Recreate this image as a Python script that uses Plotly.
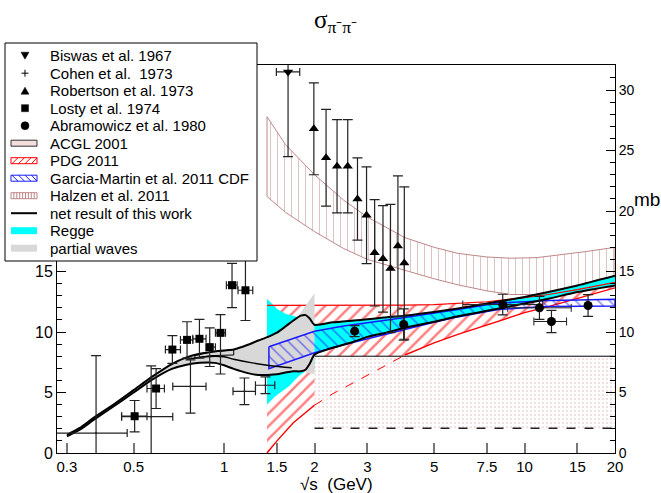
import plotly.graph_objects as go
import numpy as np

# ---------------- data ----------------
biswas_x = [1.633]
biswas_y = [31.5]
biswas_ey = [7.0]
biswas_exm = [0.14]
biswas_exp = [0.153]

cohen_x = [0.375, 0.572, 0.773, 1.169, 1.373]
cohen_y = [1.65, 3.0, 5.5, 5.1, 5.6]
cohen_ey = [6.4, 4.2, 2.2, 1.1, 0.7]
cohen_exm = [0.105, 0.116, 0.098, 0.098, 0.101]
cohen_exp = [0.101, 0.103, 0.098, 0.103, 0.102]

robertson_x = [1.99, 2.185, 2.377, 2.58, 2.78, 2.98, 3.17, 3.38, 3.58, 3.79, 3.98]
robertson_y = [26.8, 24.4, 23.7, 23.7, 21.0, 19.65, 16.55, 16.05, 15.25, 17.1, 15.7]
robertson_ey = [3.8, 4.0, 3.85, 3.85, 3.4, 4.0, 4.4, 4.4, 5.3, 5.8, 6.3]

losty_x = [0.504, 0.594, 0.673, 0.753, 0.828, 0.896, 0.973, 1.063, 1.178]
losty_y = [3.04, 5.33, 8.55, 9.35, 9.44, 8.75, 9.93, 13.87, 13.45]
losty_eyp = [1.3, 1.65, 1.15, 1.5, 1.6, 1.6, 1.5, 1.8, 2.5]
losty_eym = [1.3, 1.65, 1.15, 1.5, 1.6, 1.6, 3.4, 1.85, 2.5]
losty_exm = [0.048, 0.04, 0.035, 0.037, 0.041, 0.025, 0.037, 0.045, 0.065]
losty_exp = [0.05, 0.039, 0.043, 0.034, 0.043, 0.04, 0.038, 0.042, 0.068]

abr_x = [2.72, 3.96, 8.46, 11.21, 12.29, 16.27]
abr_y = [10.07, 10.62, 12.27, 12.0, 10.87, 12.19]
abr_ey = [0.45, 1.3, 0.85, 0.95, 0.92, 0.9]
abr_exm = [0, 0, 2.23, 2.42, 1.55, 0]
abr_exp = [0, 0, 3.03, 3.09, 1.51, 0]

# ACGL 2001 box
acgl_x = [2.0, 20.0]
acgl_hi = [8.0, 8.0]
acgl_lo = [2.05, 2.05]

# PDG 2011 band
pdg_up_x = [1.39, 2, 3, 4, 5, 6, 7.5, 10, 12, 15, 20]
pdg_up_y = [12.2, 12.2, 12.2, 12.22, 12.27, 12.35, 12.5, 12.85, 13.1, 13.5, 14.1]
pdg_lo_x = [1.39, 1.5, 1.7, 2, 2.3, 2.6, 3, 3.4, 4, 5, 6, 7.5, 10, 12, 15, 20]
pdg_lo_y = [0.0, 1.0, 2.5, 3.95, 4.9, 5.6, 6.4, 7.15, 8.1, 9.1, 9.8, 10.6, 11.6, 12.1, 12.8, 13.65]

# Garcia-Martin et al. 2011 CDF band
gm_x = [1.41, 2, 2.5, 3, 3.4, 4, 5, 6, 7.5, 8.2, 10, 12, 15, 20]
gm_up = [8.78, 10.07, 10.5, 10.8, 10.95, 11.2, 11.55, 11.85, 12.25, 12.4, 12.5, 12.6, 12.65, 12.7]
gm_lo = [6.96, 8.28, 8.95, 9.45, 9.8, 10.2, 10.8, 11.25, 11.7, 11.86, 12.0, 12.1, 12.15, 12.15]

# Halzen et al. 2011 band
hz_x = [1.39, 1.6, 2, 2.5, 3, 4, 5, 6, 7.5, 9, 11, 13, 16, 20]
hz_up = [27.8, 25.5, 23.0, 20.9, 19.5, 17.8, 17.0, 16.5, 16.2, 16.1, 16.15, 16.35, 16.65, 17.0]
hz_lo = [21.2, 19.9, 18.3, 16.9, 16.0, 15.1, 14.4, 13.9, 13.4, 13.1, 13.1, 13.3, 13.8, 14.6]

# net result of this work
net_x = [0.3, 0.33, 0.37, 0.42, 0.5, 0.58, 0.67, 0.75, 0.83, 0.93, 1.0, 1.077, 1.2, 1.3,
         1.4, 1.5, 1.6, 1.7, 1.8, 1.87, 1.93, 2.0, 2.3, 2.7, 3.0, 3.4, 4.0, 5.0, 6.0,
         7.5, 10, 12, 15, 20]
net_up = [1.5, 2.05, 2.95, 3.85, 5.2, 6.35, 7.35, 7.9, 8.2, 8.4, 8.48, 8.55, 8.95, 9.3,
          9.6, 9.95, 10.45, 10.95, 11.35, 11.4, 11.1, 10.6, 10.8, 10.95, 11.05, 11.2, 11.35,
          11.65, 11.95, 12.35, 12.9, 13.3, 13.85, 14.65]
net_lo = [1.38, 1.9, 2.78, 3.7, 5.0, 6.1, 6.95, 7.3, 7.45, 7.45, 7.25, 6.95, 6.6, 6.45,
          6.45, 6.5, 6.65, 6.75, 6.75, 6.9, 7.4, 8.14, 8.7, 9.2, 9.6, 9.9, 10.35,
          10.85, 11.3, 11.75, 12.35, 12.75, 13.3, 13.85]
net_mid_x = [0.75, 0.9, 1.0, 1.077, 1.24, 1.41, 1.68]
net_mid_y = [7.75, 7.98, 7.95, 7.75, 7.45, 7.23, 7.04]
net_box_x = [0.8, 0.9, 1.0, 1.077]
net_box_hi = [8.05, 8.32, 8.45, 8.55]
net_box_lo = [7.85, 8.05, 8.1, 8.1]

# Regge band
regge_up_x = [1.39, 1.5, 1.6, 1.75, 1.9, 2.0, 2.3, 2.7, 3.0, 3.4, 4.0, 5.0, 6.0, 7.5, 10, 12, 15, 20]
regge_up_y = [12.75, 11.9, 11.5, 11.25, 11.0, 10.6, 10.8, 10.95, 11.05, 11.2, 11.35, 11.65, 11.95, 12.35, 12.9, 13.3, 13.85, 14.65]
regge_lo_x = [1.39, 1.48, 1.64, 1.77, 1.9, 2.0, 2.0, 2.3, 2.7, 3.0, 3.4, 4.0, 5.0, 6.0, 7.5, 10, 12, 15, 20]
regge_lo_y = [4.0, 4.7, 5.5, 6.35, 6.9, 7.3, 8.14, 8.7, 9.2, 9.6, 9.9, 10.35, 10.85, 11.3, 11.75, 12.35, 12.75, 13.3, 13.85]

# partial waves band
pw_up_x = [0.3, 0.37, 0.5, 0.58, 0.67, 0.75, 0.83, 0.93, 1.0, 1.077, 1.2, 1.3, 1.4, 1.5, 1.6, 1.75, 2.0]
pw_up_y = [1.5, 2.95, 5.2, 6.35, 7.35, 7.9, 8.2, 8.4, 8.48, 8.55, 8.95, 9.3, 9.6, 9.95, 10.45, 11.2, 13.2]
pw_lo_x = [0.3, 0.37, 0.5, 0.58, 0.67, 0.75, 0.83, 0.9, 1.0, 1.1, 1.2, 1.3, 1.4, 1.5, 1.6, 1.7, 1.8, 2.0]
pw_lo_y = [1.38, 2.78, 5.0, 6.1, 6.95, 7.3, 7.45, 7.45, 7.25, 6.95, 6.6, 6.45, 6.45, 6.5, 6.65, 6.75, 6.75, 6.5]

x_tickvals = [0.3, 0.5, 1, 1.5, 2, 3, 5, 7.5, 10, 15, 20]
x_ticktext = ["0.3", "0.5", "1", "1.5", "2", "3", "5", "7.5", "10", "15", "20"]
yl_tickvals = [0, 5, 10, 15]
yr_tickvals = [0, 5, 10, 15, 20, 25, 30]

legend_labels = ["Biswas et al. 1967", "Cohen et al.  1973", "Robertson et al. 1973",
                 "Losty et al. 1974", "Abramowicz et al. 1980", "ACGL 2001", "PDG 2011",
                 "Garcia-Martin et al. 2011 CDF", "Halzen et al. 2011",
                 "net result of this work", "Regge", "partial waves"]

# ---------------- styles ----------------
RED = "#ff0000"
BLUE = "#1a1aff"
HALZEN = "rgb(190,135,135)"
ACGL_DOT = "rgb(225,170,170)"
CYAN = "#00ffff"
GRAY = "#d8d8d8"
FONT = "Liberation Sans, Arial, sans-serif"
W, H = 661, 493
L, R, T, B = 57, 46, 65, 40
YMAX = 32.07


def PX(x):
    return (x - L) / (W - L - R)


def PY(y):
    return (H - B - y) / (H - T - B)


def poly(xu, yu, xl, yl):
    xs = list(xu) + list(xl)[::-1]
    ys = list(yu) + list(yl)[::-1]
    return xs + [xs[0]], ys + [ys[0]]


fig = go.Figure()
common = dict(showlegend=False, hoverinfo="skip")

# Halzen band
xs, ys = poly(hz_x, hz_up, hz_x, hz_lo)
fig.add_trace(go.Scatter(x=xs, y=ys, mode="lines", fill="toself", fillcolor="rgba(0,0,0,0)",
                         fillpattern=dict(shape="|", size=7, solidity=0.15, fgcolor=HALZEN,
                                          bgcolor="rgba(0,0,0,0)"),
                         line=dict(color=HALZEN, width=1), **common))

# PDG hatched area
xs, ys = poly(pdg_up_x, pdg_up_y, pdg_lo_x, pdg_lo_y)
fig.add_trace(go.Scatter(x=xs, y=ys, mode="none", fill="toself", fillcolor="rgba(0,0,0,0)",
                         fillpattern=dict(shape="/", size=9, solidity=0.28, fgcolor=RED,
                                          bgcolor="rgba(0,0,0,0)"), **common))

# ACGL box
xs, ys = poly(acgl_x, acgl_hi, acgl_x, acgl_lo)
fig.add_trace(go.Scatter(x=xs, y=ys, mode="none", fill="toself", fillcolor="white",
                         fillpattern=dict(shape=".", size=4, solidity=0.2, fgcolor=ACGL_DOT,
                                          bgcolor="white"), **common))
fig.add_trace(go.Scatter(x=acgl_x, y=acgl_hi, mode="lines", line=dict(color="black", width=1), **common))
fig.add_trace(go.Scatter(x=acgl_x, y=acgl_lo, mode="lines",
                         line=dict(color="#222", width=1.5, dash="dash"), **common))

# Regge band
xs, ys = poly(regge_up_x, regge_up_y, regge_lo_x, regge_lo_y)
fig.add_trace(go.Scatter(x=xs, y=ys, mode="none", fill="toself", fillcolor=CYAN, **common))

# PDG boundary lines
lo_x = np.array(pdg_lo_x)
lo_y = np.array(pdg_lo_y)
fig.add_trace(go.Scatter(x=pdg_up_x, y=pdg_up_y, mode="lines", line=dict(color=RED, width=1.2), **common))
m1 = lo_x <= 2
m2 = (lo_x >= 2) & (lo_x <= 4)
m3 = lo_x >= 4
fig.add_trace(go.Scatter(x=lo_x[m1], y=lo_y[m1], mode="lines", line=dict(color=RED, width=1.4), **common))
fig.add_trace(go.Scatter(x=lo_x[m2], y=lo_y[m2], mode="lines", line=dict(color=RED, width=1, dash="dash"), **common))
fig.add_trace(go.Scatter(x=lo_x[m3], y=lo_y[m3], mode="lines", line=dict(color=RED, width=1.4), **common))

# partial waves band
xs, ys = poly(pw_up_x, pw_up_y, pw_lo_x, pw_lo_y)
fig.add_trace(go.Scatter(x=xs, y=ys, mode="none", fill="toself", fillcolor=GRAY, **common))

# Garcia-Martin band
xs, ys = poly(gm_x, gm_up, gm_x, gm_lo)
fig.add_trace(go.Scatter(x=xs, y=ys, mode="lines", fill="toself", fillcolor="rgba(0,0,0,0)",
                         fillpattern=dict(shape="\\", size=8, solidity=0.2, fgcolor=BLUE,
                                          bgcolor="rgba(0,0,0,0)"),
                         line=dict(color=BLUE, width=1.5), **common))

# net result lines
fig.add_trace(go.Scatter(x=net_x, y=net_up, mode="lines", line=dict(color="black", width=2, shape="spline", smoothing=0.6), **common))
fig.add_trace(go.Scatter(x=net_x, y=net_lo, mode="lines", line=dict(color="black", width=2, shape="spline", smoothing=0.6), **common))
fig.add_trace(go.Scatter(x=net_mid_x, y=net_mid_y, mode="lines", line=dict(color="black", width=1.5, shape="spline"), **common))
xs, ys = poly(net_box_x, net_box_hi, net_box_x, net_box_lo)
fig.add_trace(go.Scatter(x=xs, y=ys, mode="lines", line=dict(color="black", width=1), **common))

# data points
eb = dict(color="#222", thickness=1.2, width=5)
ebx = dict(color="#222", thickness=1.2, width=4)
fig.add_trace(go.Scatter(x=cohen_x, y=cohen_y, mode="markers",
                         marker=dict(size=2, color="#222"),
                         error_y=dict(type="data", array=cohen_ey, **eb),
                         error_x=dict(type="data", array=cohen_exp, arrayminus=cohen_exm, **ebx), **common))
fig.add_trace(go.Scatter(x=losty_x, y=losty_y, mode="markers",
                         marker=dict(symbol="square", size=8, color="black"),
                         error_y=dict(type="data", array=losty_eyp, arrayminus=losty_eym, **eb),
                         error_x=dict(type="data", array=losty_exp, arrayminus=losty_exm, **ebx), **common))
fig.add_trace(go.Scatter(x=robertson_x, y=robertson_y, mode="markers",
                         marker=dict(symbol="triangle-up", size=9, color="black"),
                         error_y=dict(type="data", array=robertson_ey, **eb), **common))
fig.add_trace(go.Scatter(x=biswas_x, y=biswas_y, mode="markers",
                         marker=dict(symbol="triangle-down", size=9, color="black"),
                         error_y=dict(type="data", array=biswas_ey, **eb),
                         error_x=dict(type="data", array=biswas_exp, arrayminus=biswas_exm, **ebx), **common))
fig.add_trace(go.Scatter(x=abr_x, y=abr_y, mode="markers", yaxis="y2",
                         marker=dict(symbol="circle", size=9, color="black"),
                         error_y=dict(type="data", array=abr_ey, **eb),
                         error_x=dict(type="data", array=abr_exp, arrayminus=abr_exm, color="#222", thickness=1, width=4),
                         **common))

# ---------------- manual legend ----------------
shapes = []
annotations = []
shapes.append(dict(type="rect", xref="paper", yref="paper", x0=PX(5), x1=PX(257), y0=PY(261), y1=PY(43),
                   fillcolor="white", line=dict(color="black", width=1), layer="above"))


def path_of(pts, close=True):
    s = "M " + " L ".join(f"{PX(a):.5f},{PY(b):.5f}" for a, b in pts)
    return s + (" Z" if close else "")


def add_path(pts, close=True, fill=None, color="black", width=1):
    d = dict(type="path", xref="paper", yref="paper", path=path_of(pts, close), layer="above",
             line=dict(color=color, width=width))
    d["fillcolor"] = fill if fill else "rgba(0,0,0,0)"
    shapes.append(d)


cx = 25
for i, lab in enumerate(legend_labels):
    yc = 55.7 + i * 17.5
    annotations.append(dict(text=lab, xref="paper", yref="paper", x=PX(48), y=PY(yc),
                            xanchor="left", yanchor="middle", showarrow=False,
                            font=dict(family=FONT, size=15, color="black")))
    bx0, bx1, by0, by1 = 11, 37, yc - 3, yc + 3
    if i == 0:
        add_path([(cx - 4, yc - 3.5), (cx + 4, yc - 3.5), (cx, yc + 3.5)], fill="black", width=0.5)
    elif i == 1:
        add_path([(cx - 3.5, yc), (cx + 3.5, yc)], close=False, width=1)
        add_path([(cx, yc - 3.5), (cx, yc + 3.5)], close=False, width=1)
    elif i == 2:
        add_path([(cx - 4, yc + 3.5), (cx + 4, yc + 3.5), (cx, yc - 3.5)], fill="black", width=0.5)
    elif i == 3:
        add_path([(cx - 3.5, yc - 3.5), (cx + 3.5, yc - 3.5), (cx + 3.5, yc + 3.5), (cx - 3.5, yc + 3.5)],
                 fill="black", width=0.5)
    elif i == 4:
        shapes.append(dict(type="circle", xref="paper", yref="paper", x0=PX(cx - 4), x1=PX(cx + 4),
                           y0=PY(yc + 4), y1=PY(yc - 4), fillcolor="black", line=dict(color="black", width=0.5),
                           layer="above"))
    elif i == 5:
        add_path([(bx0, by0), (bx1, by0), (bx1, by1), (bx0, by1)], fill="rgba(235,200,200,0.6)", color="#333")
    elif i == 6:
        add_path([(bx0, by0), (bx1, by0), (bx1, by1), (bx0, by1)], color=RED)
        for k in range(4):
            xa = bx0 + 1 + k * 6.5
            add_path([(xa, by1), (min(xa + 6, bx1), by0)], close=False, color=RED)
    elif i == 7:
        add_path([(bx0, by0), (bx1, by0), (bx1, by1), (bx0, by1)], color=BLUE)
        for k in range(4):
            xa = bx0 + 1 + k * 6.5
            add_path([(xa, by0), (min(xa + 6, bx1), by1)], close=False, color=BLUE)
    elif i == 8:
        add_path([(bx0, by0), (bx1, by0), (bx1, by1), (bx0, by1)], color=HALZEN)
        for k in range(1, 9):
            xa = bx0 + k * 2.9
            add_path([(xa, by0), (xa, by1)], close=False, color=HALZEN)
    elif i == 9:
        add_path([(bx0, yc), (bx1, yc)], close=False, width=2)
    elif i == 10:
        add_path([(bx0, yc - 3.5), (bx1, yc - 3.5), (bx1, yc + 3.5), (bx0, yc + 3.5)], fill=CYAN, color=CYAN, width=0)
    elif i == 11:
        add_path([(bx0, yc - 3.5), (bx1, yc - 3.5), (bx1, yc + 3.5), (bx0, yc + 3.5)], fill=GRAY, color=GRAY, width=0)

# titles
annotations.append(dict(text="σ<sub>π⁻π⁻</sub>", xref="paper", yref="paper", x=PX(335), y=PY(22),
                        xanchor="center", yanchor="middle", showarrow=False,
                        font=dict(family="Liberation Serif, Times New Roman, serif", size=25, color="black")))
annotations.append(dict(text="mb", xref="paper", yref="paper", x=PX(647), y=PY(199),
                        xanchor="center", yanchor="middle", showarrow=False,
                        font=dict(family=FONT, size=19, color="black")))
annotations.append(dict(text="√s  (GeV)", xref="paper", yref="paper",
                        x=PX(336), y=PY(484), xanchor="center", yanchor="middle", showarrow=False,
                        font=dict(family=FONT, size=17, color="black")))

fig.update_layout(
    width=W, height=H, margin=dict(l=L, r=R, t=T, b=B, pad=0),
    paper_bgcolor="white", plot_bgcolor="white", showlegend=False, hovermode=False,
    font=dict(family=FONT, color="black"),
    xaxis=dict(type="log", range=[np.log10(0.278), np.log10(20)], tickvals=x_tickvals, ticktext=x_ticktext,
               ticks="inside", ticklen=10, tickcolor="#777", tickwidth=1.5, showgrid=False, zeroline=False,
               showline=True, linecolor="black", linewidth=1, mirror=True,
               tickfont=dict(family=FONT, size=15)),
    yaxis=dict(range=[0, YMAX], tickvals=yl_tickvals,
               ticks="inside", ticklen=9, tickcolor="black", showgrid=False, zeroline=False,
               showline=True, linecolor="black", linewidth=1,
               minor=dict(dtick=1, tick0=0, ticks="inside", ticklen=5, tickcolor="black", showgrid=False),
               tickfont=dict(family=FONT, size=16)),
    yaxis2=dict(range=[0, YMAX], overlaying="y", side="right", tickvals=yr_tickvals,
                ticks="inside", ticklen=9, tickcolor="black", showgrid=False, zeroline=False,
                showline=True, linecolor="black", linewidth=1,
                minor=dict(dtick=1, tick0=0, ticks="inside", ticklen=5, tickcolor="black", showgrid=False),
                tickfont=dict(family=FONT, size=14)),
    shapes=shapes, annotations=annotations,
)

fig.write_html("out.html")
